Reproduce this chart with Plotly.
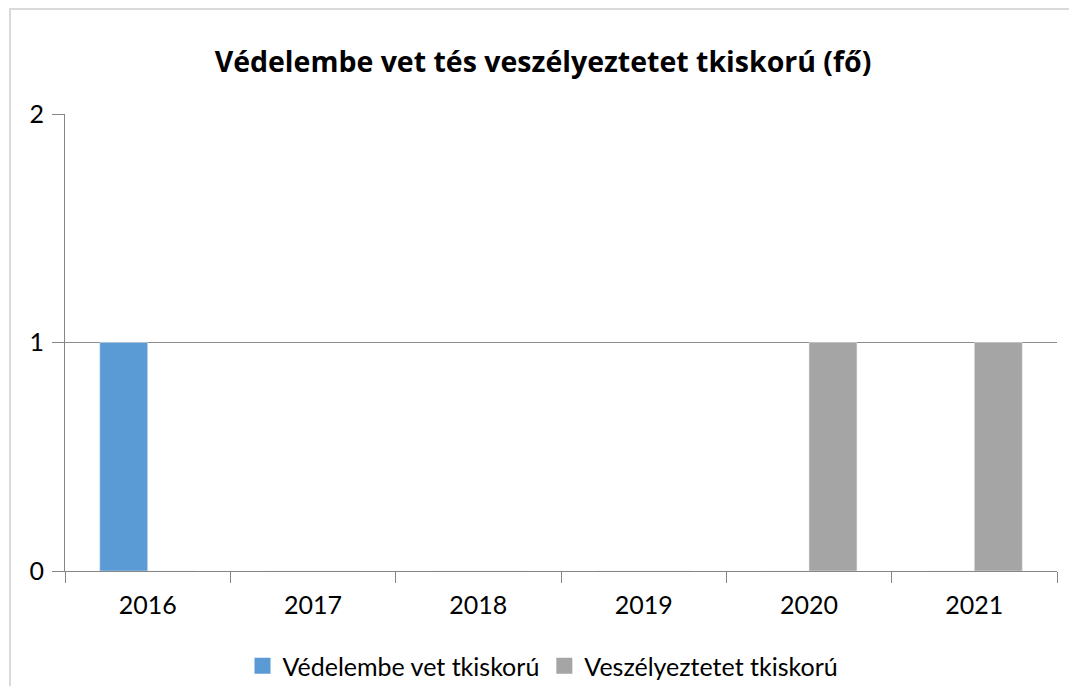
import plotly.graph_objects as go

years = ["2016", "2017", "2018", "2019", "2020", "2021"]
vedelembe = [1, 0, 0, 0, 0, 0]
veszelyeztetett = [0, 0, 0, 0, 1, 1]
series_names = ["Védelembe vet tkiskorú", "Veszélyeztetet tkiskorú"]
series_colors = ["#5B9BD5", "#A5A5A5"]
title_text = "Védelembe vet tés veszélyeztetet tkiskorú (fő)"

W, H = 1077, 686
L, R, T, B = 57, 28, 106, 123
pw, ph = W - L - R, H - T - B

fig = go.Figure()
for name, vals, col in zip(series_names, [vedelembe, veszelyeztetett], series_colors):
    fig.add_trace(go.Bar(x=years, y=vals, name=name, marker_color=col,
                         legendgroup=name, showlegend=False))
# legend entries with larger square swatches
for name, col in zip(series_names, series_colors):
    fig.add_trace(go.Scatter(x=[None], y=[None], mode="markers", name=name,
                             legendgroup=name,
                             marker=dict(symbol="square", size=16, color=col)))

font_family = "Lato, 'Open Sans', sans-serif"
fig.update_layout(
    width=W, height=H,
    margin=dict(l=L, r=R, t=T, b=B, autoexpand=False),
    paper_bgcolor="white", plot_bgcolor="white",
    barmode="group", bargap=0.42, bargroupgap=0,
    font=dict(family=font_family, size=25, color="#000000"),
    title=dict(text="<b>" + title_text + "</b>", x=535 / W, xanchor="center",
               y=1 - 54 / H, yanchor="middle",
               font=dict(size=28.5, family="'Open Sans', sans-serif", color="#000000")),
    legend=dict(orientation="h", x=(535 - L) / pw, xanchor="center", y=-(658 - (H - B)) / ph,
                yanchor="middle", font=dict(size=25), traceorder="normal",
                itemsizing="trace"),
    showlegend=True,
)
fig.update_xaxes(
    type="category",
    showline=True, linecolor="#868686", linewidth=1,
    ticks="outside", tickson="boundaries", ticklen=11, tickcolor="#868686",
    showgrid=False, tickfont=dict(size=25), ticklabelstandoff=12,
)
fig.update_yaxes(
    range=[0, 2], dtick=1, showline=True, linecolor="#868686", linewidth=1,
    ticks="outside", ticklen=12, tickcolor="#868686",
    showgrid=True, gridcolor="#8C8C8C", gridwidth=1, zeroline=False,
    tickfont=dict(size=25), ticklabelstandoff=3,
)
# outer chart border
fig.add_shape(type="rect", xref="paper", yref="paper",
              x0=(2 - L) / pw, x1=(W + 20 - L) / pw,
              y0=-(H + 20 - (H - B)) / ph, y1=((H - B) - 1) / ph,
              line=dict(color="#D9D9D9", width=2), fillcolor="rgba(0,0,0,0)",
              layer="below")

fig.write_html("out.html")
